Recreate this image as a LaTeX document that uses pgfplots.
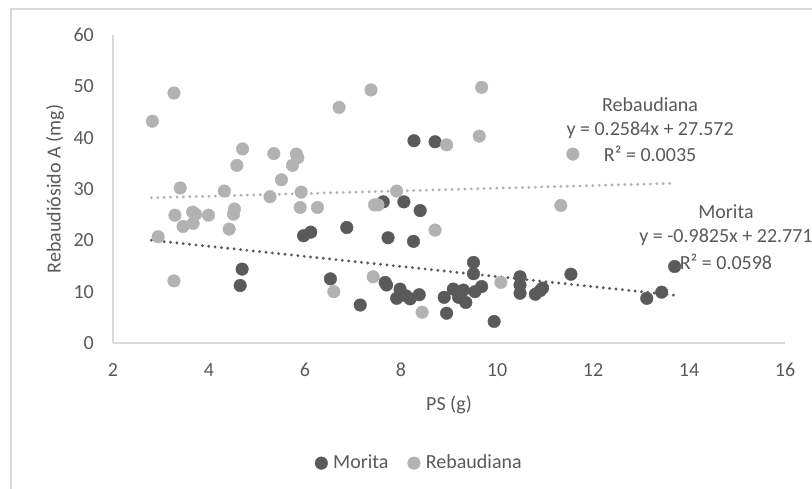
\documentclass[border=0pt]{standalone}
\usepackage{pgfplots}
\pgfplotsset{compat=1.18}
\usepackage{fontspec}
\setmainfont{Carlito}

\definecolor{txt}{HTML}{595959}
\definecolor{morita}{HTML}{5A5A5A}
\definecolor{rebaud}{HTML}{B2B2B2}
\definecolor{axl}{HTML}{D9D9D9}

\begin{document}
\fontsize{20bp}{24bp}\selectfont
\begin{tikzpicture}
\begin{axis}[
  scale only axis, width=672bp, height=308bp,
  xmin=2, xmax=16, ymin=0, ymax=60,
  xtick={2,4,...,16}, ytick={0,10,...,60},
  axis x line*=bottom, axis y line*=left,
  axis line style={axl, line width=1.2bp, -},
  major tick length=0pt,
  clip=false,
  tick label style={text=txt, inner sep=0pt},
  /pgf/number format/assume math mode=true,
  xticklabel style={anchor=center, yshift=-27bp},
  yticklabel style={anchor=east, xshift=-19bp},
  xlabel={PS (g)}, ylabel={Rebaudiósido A (mg)},
  label style={text=txt},
  xlabel style={at={(axis description cs:0.5,-0.2013)}, anchor=center},
  ylabel style={at={(axis description cs:-0.0863,0.5)}, anchor=center},
  legend image code/.code={%
    \path[draw opacity=0, fill opacity=0] (0bp,-6bp) rectangle (17bp,6bp);
    \draw[#1] plot coordinates {(6.3bp,0bp)};},
  legend style={at={(axis description cs:0.455,-0.39)}, anchor=center,
    draw=none, fill=none, legend columns=2, text=txt,
    nodes={inner sep=1bp},
    /tikz/every even column/.append style={column sep=18bp}},
  legend cell align=left,
]

% Morita
\addplot[only marks, mark=*, mark size=6.3bp, color=morita, mark options={fill=morita, draw=morita}]
coordinates {
(4.65,11.2) (4.69,14.4) (5.97,20.9) (6.12,21.6) (6.53,12.5) (6.87,22.5)
(7.15,7.4) (7.63,27.5) (7.67,11.8) (7.70,11.3) (7.73,20.5) (7.91,8.7)
(7.98,10.5) (8.06,27.5) (8.10,9.2) (8.19,8.6) (8.26,19.8) (8.27,39.4)
(8.38,9.4) (8.40,25.8) (8.71,39.2) (8.90,8.9) (8.95,5.8) (9.09,10.5)
(9.20,8.9) (9.30,10.3) (9.35,7.9) (9.51,15.7) (9.51,13.5) (9.54,10.0)
(9.68,11.0) (9.94,4.2) (10.48,12.9) (10.48,11.3) (10.48,9.7) (10.80,9.5)
(10.90,10.2) (10.95,10.7) (11.54,13.4) (13.12,8.7) (13.43,9.9) (13.70,14.9)
};
\addlegendentry{Morita}

% Rebaudiana
\addplot[only marks, mark=*, mark size=6.3bp, color=rebaud, mark options={fill=rebaud, draw=rebaud}]
coordinates {
(2.82,43.2) (3.27,48.7) (2.94,20.7) (3.27,12.1) (3.29,24.9) (3.40,30.2)
(3.46,22.7) (3.66,25.5) (3.72,25.1) (3.67,23.3) (3.99,24.9) (4.32,29.6)
(4.42,22.2) (4.51,25.1) (4.53,26.1) (4.58,34.6) (4.70,37.8) (5.27,28.5)
(5.35,36.9) (5.51,31.8) (5.74,34.6) (5.82,36.8) (5.85,36.1) (5.92,29.4)
(5.90,26.4) (6.26,26.4) (6.60,10.0) (6.71,45.9) (7.375,49.3) (7.42,12.9)
(7.45,26.9) (7.52,26.9) (7.91,29.6) (8.44,6.0) (8.71,22.0) (8.95,38.6)
(9.63,40.3) (9.68,49.8) (10.08,11.8) (11.33,26.8) (11.58,36.8)
};
\addlegendentry{Rebaudiana}

% linear trend lines (endpoints from the fitted equations)
\addplot[forget plot, color=morita, line width=3.2bp, line cap=round,
  dash pattern=on 0bp off 6.4bp] coordinates {(2.8,20.020) (13.7,9.311)};
\addplot[forget plot, color=rebaud, line width=3.2bp, line cap=round,
  dash pattern=on 0bp off 6.4bp] coordinates {(2.8,28.296) (13.7,31.112)};

% trend line labels
\node[text=txt] at (axis cs:13.19,46.4) {Rebaudiana};
\node[text=txt] at (axis cs:13.19,41.5) {y = 0.2584x + 27.572};
\node[text=txt] at (axis cs:13.19,36.8) {R² = 0.0035};
\node[text=txt] at (axis cs:14.77,25.5) {Morita};
\node[text=txt] at (axis cs:14.77,20.65) {y = -0.9825x + 22.771};
\node[text=txt] at (axis cs:14.77,15.8) {R² = 0.0598};
\end{axis}

% chart area frame
\draw[axl, line width=1.5bp] (-102bp,-146bp) -- (-102bp,334bp) -- (699bp,334bp);
\pgfresetboundingbox
\path[use as bounding box] (-113bp,-146bp) rectangle (699bp,343bp);
\end{tikzpicture}
\end{document}
